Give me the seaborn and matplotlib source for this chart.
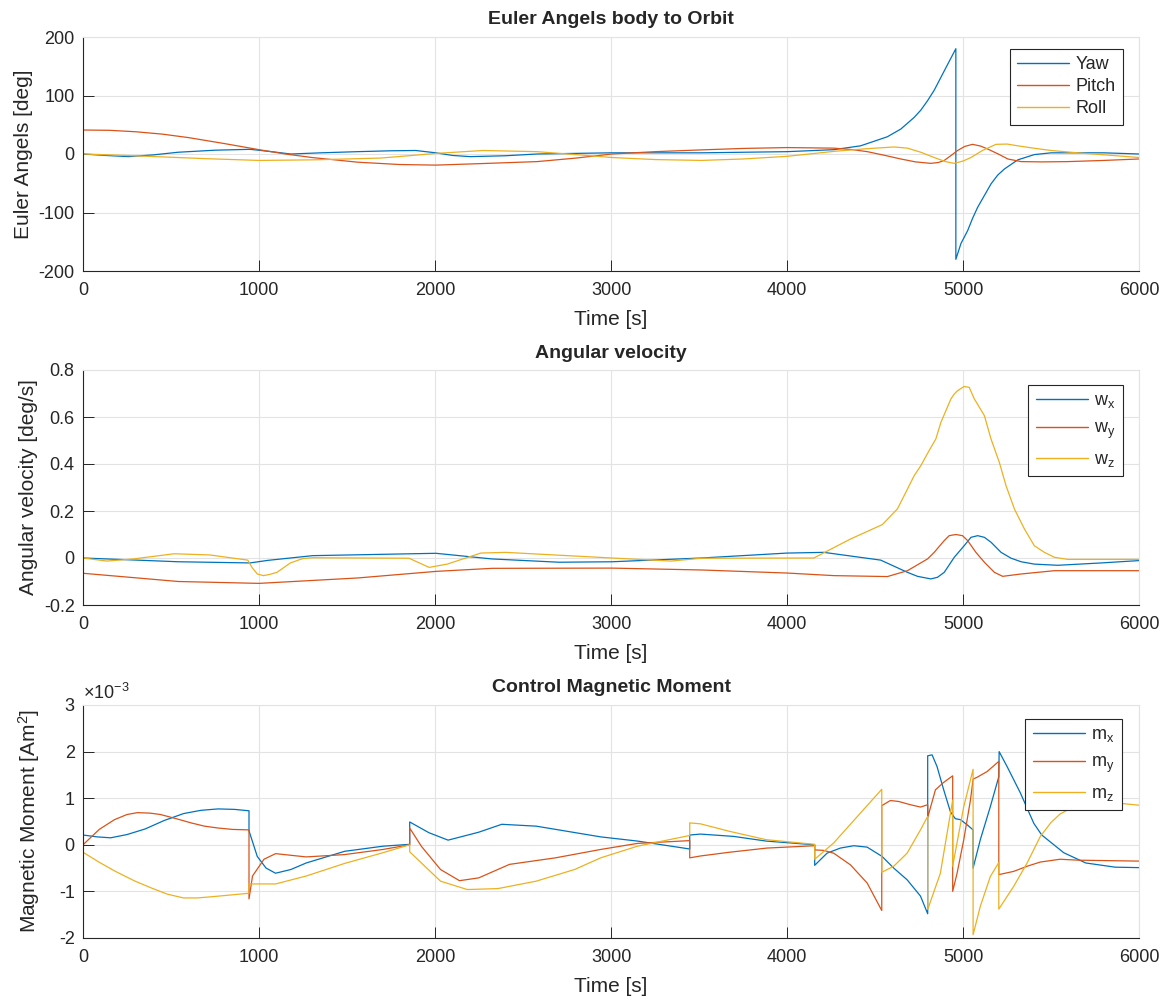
import matplotlib
matplotlib.use("Agg")
import pandas as pd
import seaborn as sns
from matplotlib import pyplot as plt
from matplotlib.ticker import FuncFormatter

# theme first, then fonts (set_theme resets font.family)
sns.set_theme(style="whitegrid")
plt.rcParams["font.family"] = ["Liberation Sans", "DejaVu Sans"]
plt.rcParams["axes.unicode_minus"] = False
plt.rcParams["mathtext.default"] = "regular"

COLORS = ["#0072BD", "#D95319", "#EDB120"]

# ---- Euler angles [deg] ----
yaw_t = [0, 130, 260, 400, 540, 750, 950, 1070, 1180, 1350, 1560, 1750, 1890, 2005, 2100,
         2200, 2400, 2580, 3000, 3510, 4000,
         4266, 4418, 4532, 4570, 4646, 4722, 4760, 4798, 4836, 4874, 4912, 4959,
         4959, 4988, 5026, 5054, 5083, 5159, 5197, 5235, 5311, 5405, 5500, 5800, 6000]
yaw_v = [0, -2.5, -4.5, -1.5, 3, 6.5, 8, 4, 0, 2, 4, 5.5, 6, 2, -2.5,
         -4.5, -3, 0, 2, 2, 4,
         7.4, 14, 25.6, 29.5, 42.6, 62.5, 75, 91, 109, 131, 153, 180,
         -180, -153, -131, -110, -91, -51, -36, -25.6, -10, -1, 2, 2, 0]
pitch_t = [0, 150, 300, 450, 600, 800, 1000, 1150, 1300, 1560, 1800, 2005, 2300, 2580, 2800,
           3005, 3250, 3510, 3750, 4000, 4266, 4370, 4456, 4550, 4646, 4730, 4817, 4860,
           4893, 4930, 4969, 5010, 5054, 5100, 5140, 5200, 5254, 5330, 5450, 5595, 5800, 6000]
pitch_v = [41, 40.5, 38, 34, 28, 18, 7.4, 0, -6, -14, -18, -19, -16, -13, -7,
           0, 4, 7, 9.5, 11, 10, 7.5, 4, -2, -8.5, -13.5, -16, -14.5,
           -11, -3, 6, 13, 16.5, 13.5, 8.5, 0, -8.5, -13, -13.5, -13, -11, -8.5]
roll_t = [0, 200, 415, 700, 1000, 1305, 1687, 1850, 2005, 2272, 2578, 2800, 3005, 3250,
          3514, 3750, 4000, 4266, 4450, 4608, 4684, 4760, 4836, 4900, 4950, 5000, 5045,
          5110, 5187, 5250, 5311, 5400, 5500, 5650, 5785, 6000]
roll_v = [0, -2, -4.5, -8, -11, -10, -7, -3, 1, 6, 4, -1, -6, -9.5,
          -11, -8.5, -4, 4.5, 9, 12, 10, 3, -6, -13, -16, -12, -6,
          6, 16.5, 17, 14, 10, 6, 2, -1, -6]

# ---- angular velocity [deg/s] ----
wx_t = [0, 542, 949, 1051, 1305, 2005, 2323, 2705, 3005, 3514, 4000, 4209, 4532,
        4684, 4741, 4817, 4855, 4893, 4950, 5006, 5045, 5083, 5121, 5159, 5216, 5273,
        5330, 5405, 5538, 5785, 6000]
wx_v = [0, -0.016, -0.021, -0.01, 0.01, 0.02, -0.004, -0.018, -0.016, 0, 0.021, 0.024, -0.009,
        -0.061, -0.078, -0.089, -0.082, -0.061, 0.003, 0.052, 0.088, 0.095, 0.088, 0.067, 0.024, -0.001,
        -0.016, -0.026, -0.031, -0.021, -0.011]
wy_t = [0, 542, 1000, 1560, 2005, 2323, 3005, 3514, 4000, 4266, 4570, 4684, 4798,
        4836, 4893, 4921, 4959, 4997, 5026, 5073, 5121, 5178, 5225, 5330, 5519, 6000]
wy_v = [-0.065, -0.1, -0.108, -0.085, -0.057, -0.044, -0.043, -0.051, -0.064, -0.075, -0.079, -0.054, -0.004,
        0.024, 0.074, 0.095, 0.1, 0.095, 0.074, 0.024, -0.018, -0.061, -0.078, -0.068, -0.054, -0.054]
wz_t = [0, 135, 287, 517, 720, 936, 960, 990, 1025, 1060, 1102, 1178, 1250, 1305, 1852, 1967,
        2069, 2260, 2400, 3005, 3341, 3514, 4152, 4361, 4541, 4627, 4665, 4722, 4760, 4807,
        4845, 4874, 4931, 4950, 4969, 5006, 5035, 5064, 5121, 5159, 5206, 5244, 5292, 5349,
        5405, 5462, 5519, 5595, 6000]
wz_v = [0, -0.013, -0.004, 0.018, 0.013, -0.009, -0.04, -0.068, -0.075, -0.07, -0.061, -0.021, -0.002, 0.001,
        -0.001, -0.04, -0.026, 0.021, 0.024, 0, -0.013, -0.001, 0, 0.081, 0.142, 0.209, 0.265, 0.35,
        0.393, 0.457, 0.506, 0.577, 0.677, 0.698, 0.712, 0.73, 0.726, 0.677, 0.606, 0.506, 0.407,
        0.308, 0.208, 0.123, 0.052, 0.024, 0.003, -0.006, -0.006]

# ---- control magnetic moment [x 1e-3 Am^2] ----
mx_t = [0, 80, 157, 250, 353, 460, 571, 670, 767, 860, 943, 943, 990, 1040, 1094, 1181, 1268,
        1486, 1704, 1856, 1856, 1965, 2074, 2248, 2379, 2575, 2941, 3150, 3447, 3447, 3508,
        3697, 3881, 4157, 4157, 4227, 4303, 4379, 4455, 4540, 4606, 4682, 4758, 4799, 4799,
        4824, 4852, 4890, 4928, 4956, 4985, 5023, 5057, 5057, 5098, 5155, 5203, 5205, 5250,
        5326, 5402, 5447, 5572, 5697, 5864, 6000]
mx_v = [0.21, 0.17, 0.15, 0.22, 0.34, 0.52, 0.67, 0.74, 0.77, 0.76, 0.73, 0.3, -0.25, -0.5, -0.61, -0.53, -0.39,
        -0.14, -0.03, 0.01, 0.49, 0.26, 0.1, 0.27, 0.44, 0.4, 0.17, 0.08, -0.09, 0.21, 0.23,
        0.18, 0.08, 0, -0.44, -0.18, -0.07, -0.02, -0.05, -0.25, -0.5, -0.75, -1.1, -1.48, 1.91,
        1.93, 1.68, 1.18, 0.71, 0.56, 0.54, 0.43, 0.32, -0.5, 0.11, 0.82, 1.46, 2.0, 1.68,
        1.11, 0.46, 0.21, -0.17, -0.39, -0.48, -0.49]
my_t = [0, 92, 179, 250, 309, 380, 440, 530, 614, 690, 767, 850, 943, 943, 963, 1028, 1094, 1268,
        1486, 1704, 1856, 1856, 1922, 2031, 2139, 2248, 2423, 2684, 2941, 3150, 3447, 3447, 3508,
        3672, 3886, 4157, 4157, 4208, 4265, 4360, 4455, 4538, 4538, 4587, 4634, 4701, 4758, 4799,
        4800, 4843, 4890, 4941, 4941, 4966, 5004, 5042, 5057, 5080, 5136, 5203, 5203, 5288,
        5364, 5439, 5551, 5656, 6000]
my_v = [0, 0.33, 0.54, 0.65, 0.69, 0.68, 0.65, 0.56, 0.47, 0.4, 0.36, 0.33, 0.32, -1.16, -0.67, -0.31, -0.19, -0.26,
        -0.21, -0.1, 0, 0.36, -0.03, -0.53, -0.77, -0.71, -0.42, -0.28, -0.1, 0.03, 0.09, -0.28, -0.24,
        -0.16, -0.07, -0.02, -0.11, -0.12, -0.18, -0.43, -0.82, -1.41, 0.84, 0.95, 0.93, 0.86, 0.81, 0.86,
        0.6, 1.18, 1.34, 1.48, -1.0, -0.61, 0.11, 0.96, 1.41, 1.45, 1.57, 1.79, -0.64, -0.57,
        -0.46, -0.37, -0.31, -0.33, -0.35]
mz_t = [0, 90, 179, 290, 397, 480, 571, 650, 745, 943, 943, 1094, 1268, 1486, 1704, 1856, 1856,
        2031, 2183, 2357, 2575, 2793, 2941, 3150, 3447, 3447, 3508, 3672, 3881, 4157, 4157, 4265,
        4483, 4538, 4538, 4606, 4682, 4758, 4799, 4799, 4871, 4941, 4941, 5004, 5057, 5057, 5098,
        5155, 5203, 5203, 5288, 5364, 5439, 5500, 5551, 5620, 5697, 5864, 6000]
mz_v = [-0.16, -0.37, -0.56, -0.77, -0.94, -1.06, -1.14, -1.14, -1.11, -1.04, -0.84, -0.84, -0.67, -0.4,
        -0.17, 0, -0.15, -0.78, -0.96, -0.94, -0.78, -0.53, -0.28, -0.03, 0.2, 0.47, 0.45, 0.29, 0.11,
        0.01, -0.31, 0.04, 0.96, 1.19, -0.59, -0.46, -0.18, 0.32, 0.61, -1.39, -0.61, 0.96, -0.46,
        0.82, 1.62, -1.93, -1.32, -0.68, -0.38, -1.38, -0.89, -0.39, 0.18, 0.48, 0.66, 0.8, 0.88,
        0.9, 0.85]


def long_frame(series, scale=1.0):
    parts = [pd.DataFrame({"t": t, "v": [x * scale for x in v], "name": name})
             for name, t, v in series]
    return pd.concat(parts, ignore_index=True)


def draw(ax, series, title, ylabel, ylim, yticks, scale=1.0, ylabelpad=4,
         labelspacing=0.35, legend_gap=(16, 12)):
    df = long_frame(series, scale)
    sns.lineplot(data=df, x="t", y="v", hue="name", palette=COLORS,
                 sort=False, estimator=None, linewidth=0.9, ax=ax)
    ax.set_xlim(0, 6000)
    ax.set_ylim(*ylim)
    ax.set_xticks(range(0, 6001, 1000))
    ax.set_yticks(yticks)
    ax.set_title(title, fontsize=14, fontweight="bold", pad=9)
    ax.set_xlabel("Time [s]", fontsize=15, labelpad=8)
    ax.set_ylabel(ylabel, fontsize=15, labelpad=ylabelpad)
    ax.grid(True, color="#e3e3e3", linewidth=0.8)
    ax.tick_params(direction="in", length=8, width=0.7, color="#262626",
                   labelsize=13, labelcolor="#262626", pad=6,
                   left=True, bottom=True, top=False, right=False)
    ax.tick_params(axis="x", pad=8)
    for side in ["left", "bottom"]:
        ax.spines[side].set_color("#262626")
        ax.spines[side].set_linewidth(0.8)
    for side in ["top", "right"]:
        ax.spines[side].set_color("#e3e3e3")
        ax.spines[side].set_linewidth(0.8)
    # legend corner placed a few pixels inside the axes, like the original
    bb = ax.get_window_extent()
    anchor = (1 - legend_gap[0] / bb.width, 1 - legend_gap[1] / bb.height)
    leg = ax.legend(loc="upper right", bbox_to_anchor=anchor, borderaxespad=0,
                    fontsize=13, frameon=True, fancybox=False,
                    framealpha=1, edgecolor="#262626", handlelength=2.9,
                    handletextpad=0.35, borderpad=0.4, labelspacing=labelspacing)
    leg.get_frame().set_linewidth(0.8)
    for line in leg.get_lines():
        line.set_linewidth(1.0)


fig = plt.figure(figsize=(11.76, 10), dpi=100)
ax1 = fig.add_axes([0.0706, 0.729, 0.898, 0.234])
ax2 = fig.add_axes([0.0706, 0.395, 0.898, 0.235])
ax3 = fig.add_axes([0.0706, 0.062, 0.898, 0.233])

draw(ax1, [("Yaw", yaw_t, yaw_v), ("Pitch", pitch_t, pitch_v), ("Roll", roll_t, roll_v)],
     "Euler Angels body to Orbit", "Euler Angels [deg]", (-200, 200), [-200, -100, 0, 100, 200],
     labelspacing=0.28, legend_gap=(16, 12))

draw(ax2, [("w$_\\mathregular{x}$", wx_t, wx_v), ("w$_\\mathregular{y}$", wy_t, wy_v),
           ("w$_\\mathregular{z}$", wz_t, wz_v)],
     "Angular velocity", "Angular velocity [deg/s]", (-0.2, 0.8), [-0.2, 0, 0.2, 0.4, 0.6, 0.8],
     labelspacing=0.55, legend_gap=(16, 15))
ax2.yaxis.set_major_formatter(FuncFormatter(lambda v, p: f"{v:g}"))

draw(ax3, [("m$_\\mathregular{x}$", mx_t, mx_v), ("m$_\\mathregular{y}$", my_t, my_v),
           ("m$_\\mathregular{z}$", mz_t, mz_v)],
     "Control Magnetic Moment", "Magnetic Moment [Am$^2$]", (-2e-3, 3e-3),
     [-2e-3, -1e-3, 0, 1e-3, 2e-3, 3e-3], scale=1e-3, ylabelpad=12, labelspacing=0.55,
     legend_gap=(17, 14))
ax3.yaxis.set_major_formatter(FuncFormatter(lambda v, p: f"{round(v * 1e3):d}"))
ax3.text(0.0, 1.008, "×10$^{-3}$", transform=ax3.transAxes, fontsize=13,
         color="#262626", ha="left", va="bottom")

fig.savefig("out.png", dpi=100)
